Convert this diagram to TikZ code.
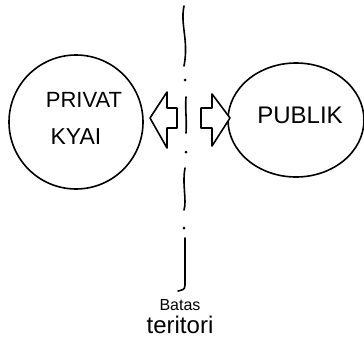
\documentclass[tikz,border=0pt]{standalone}
\usepackage{fontspec}
\setmainfont{Liberation Sans}
\usetikzlibrary{shapes.geometric}
\begin{document}
\begin{tikzpicture}[x=1pt,y=-1pt,
  stroke/.style={line width=1.6pt,line cap=round,line join=round,black},
  zone/.style={ellipse,draw,line width=1.6pt,inner sep=0pt},
  hand/.style={font=\fontsize{#1}{#1}\selectfont,inner sep=0pt},
  blockarrow/.style={stroke,fill=white}]
\useasboundingbox (0,0) rectangle (364,351);
% zones
\node[zone,minimum width=134pt,minimum height=134pt] (privat) at (76,122) {};
\node[zone,minimum width=136pt,minimum height=114pt] (publik) at (296,120) {};
\node[hand=22] (t1) at (84,100) {PRIVAT};
\node[hand=23] (t2) at (76,137) {KYAI};
\node[hand=24] (t3) at (300,115) {PUBLIK};
% boundary line
\coordinate (b0) at (184,6);
\coordinate (b1) at (184,66);
\draw[stroke] (b0) .. controls (180,25) and (189,40) .. (b1);
\fill (185,80) circle (1.5pt);
\draw[stroke] (186,97) .. controls (185,110) and (187,120) .. (186,133);
\fill (186,152) circle (1.5pt);
\draw[stroke] (185,168) .. controls (182,185) and (187,200) .. (184,210);
\fill (184,228) circle (1.5pt);
\draw[stroke] (185,238) -- (185,285) .. controls (185,290) and (182,290) .. (178,291);
% arrows
\draw[blockarrow] (150,118) -- (167,92) -- (167,108) -- (177,108) -- (177,128) -- (167,128) -- (167,148) -- cycle;
\draw[blockarrow] (230,118) -- (212,94) -- (212,108) -- (201,108) -- (201,128) -- (212,128) -- (212,146) -- cycle;
% label
\node[hand=16] (l1) at (180,305) {Batas};
\node[hand=24] (l2) at (180,325) {teritori};
\end{tikzpicture}
\end{document}
